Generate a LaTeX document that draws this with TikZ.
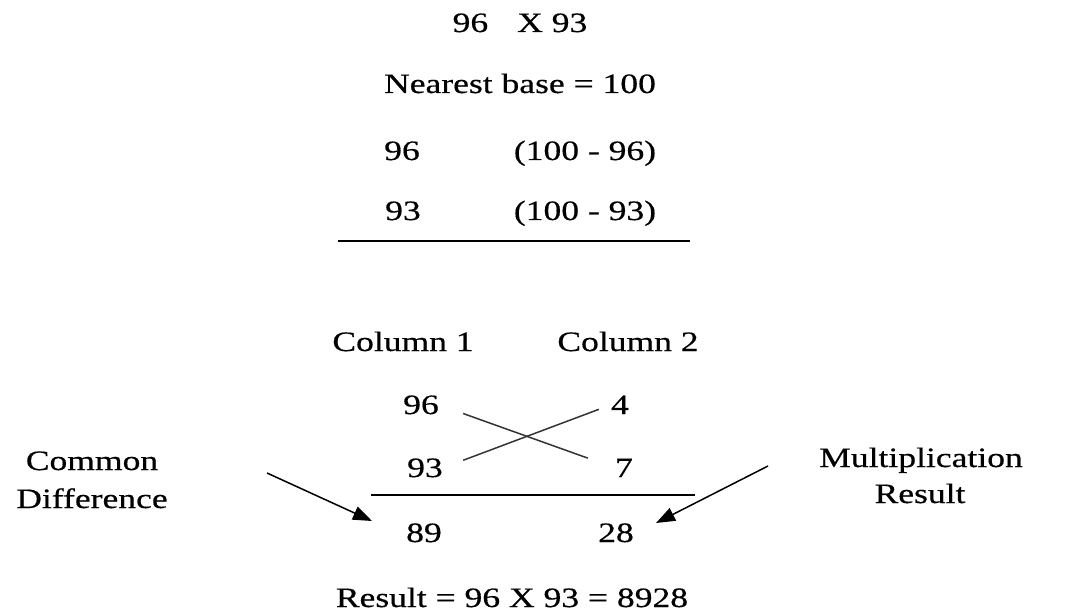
\documentclass[tikz,border=0pt]{standalone}
\usepackage{fontspec}
\setmainfont[FakeStretch=1.27, FakeBold=0.5]{Liberation Serif}
\usetikzlibrary{arrows.meta}

\begin{document}
\begin{tikzpicture}[x=1pt, y=-1pt,
  txt/.style={anchor=base, inner sep=0pt, font=\fontsize{28}{34}\selectfont},
  rule/.style={line width=1.8pt},
  cross/.style={line width=1.5pt, black!80},
  pointer/.style={line width=1.5pt, -{Triangle[length=19pt, width=14pt]}}
]
\useasboundingbox (0,0) rectangle (1065,612);

% Setup
\node[txt] (prob) at (520,32) {96\hspace{29pt}X 93};
\node[txt] (base) at (520,93) {Nearest base = 100};
\node[txt] (a1) at (402,160) {96};
\node[txt] (d1) at (585,160) {(100 - 96)};
\node[txt] (a2) at (403,220) {93};
\node[txt] (d2) at (585,220) {(100 - 93)};
\coordinate (r1l) at (338,241);
\coordinate (r1r) at (690,241);
\draw[rule] (r1l) -- (r1r);

% Columns
\node[txt] (col1) at (403,351) {Column 1};
\node[txt] (col2) at (628,351) {Column 2};
\node[txt] (c96) at (421,414) {96};
\node[txt] (c93) at (425,477) {93};
\node[txt] (c4) at (620,414) {4};
\node[txt] (c7) at (624,477) {7};
\node[txt] (c89) at (424,542) {89};
\node[txt] (c28) at (616,542) {28};

\draw[cross, shorten <=25.7pt, shorten >=28.8pt] (c96.east) -- (c7.west);
\draw[cross, shorten <=21.6pt, shorten >=12.9pt] (c93.east) -- (c4.west);

\coordinate (r2l) at (371,495);
\coordinate (r2r) at (695,495);
\draw[rule] (r2l) -- (r2r);

% Side labels
\node[txt] (cd1) at (92,470) {Common};
\node[txt] (cd2) at (92,508) {Difference};
\node[txt] (mr1) at (921,467) {Multiplication};
\node[txt] (mr2) at (920,503) {Result};

\coordinate (cdtail) at (267,473);
\coordinate (cdtip) at (372,521);
\draw[pointer] (cdtail) -- (cdtip);
\coordinate (mrtail) at (768,466);
\coordinate (mrtip) at (656,523);
\draw[pointer] (mrtail) -- (mrtip);

% Result
\node[txt] (res) at (512,607) {Result = 96 X 93 = 8928};

\end{tikzpicture}
\end{document}
